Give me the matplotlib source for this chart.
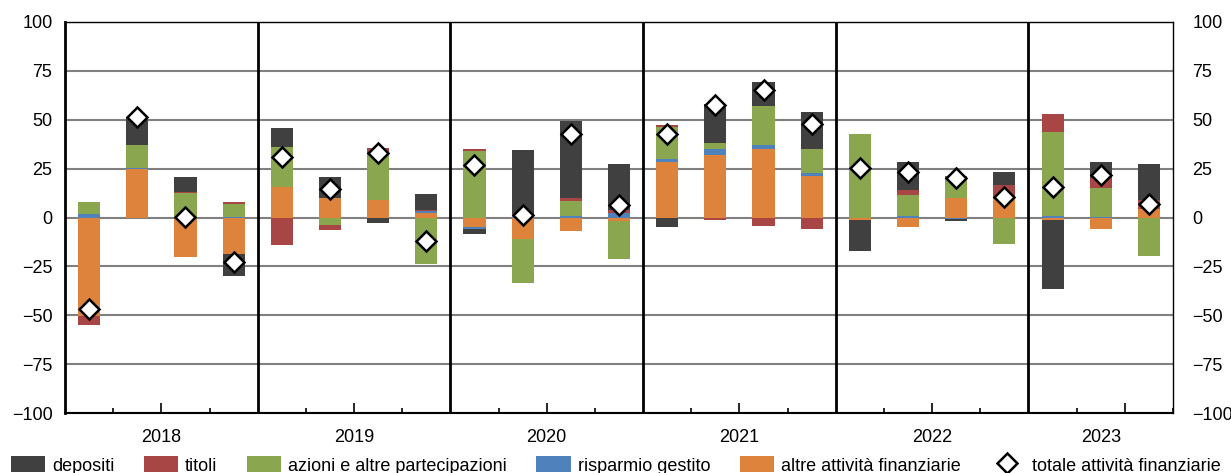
import matplotlib
matplotlib.use('Agg')
from matplotlib import pyplot as plt
from matplotlib import transforms
from matplotlib.patches import Patch
from matplotlib.lines import Line2D
import numpy as np

plt.rcParams['font.family'] = ['Liberation Sans', 'DejaVu Sans']
plt.rcParams['font.size'] = 13

years = ['2018', '2019', '2020', '2021', '2022', '2023']
quarters_per_year = [4, 4, 4, 4, 4, 3]

# quarterly flows, 2018Q1 .. 2023Q3
depositi = [0, 14.1, 7.5, -11.6, 9.6, 10.5, -2.6, 8.2, -2.55, 32.5, 39.3, 23.5,
            -5.1, 19.9, 12.2, 18.9, -15.8, 14.1, -0.85, 6.6, -35.2, 8.2, 18.4]
titoli = [-5.0, -0.5, 0.7, 1.0, -13.8, -2.9, 3.1, 0.85, 1.0, 1.2, 1.7, 1.4,
          1.0, -1.2, -4.1, -6.1, 0, 2.7, 1.4, 6.5, 9.2, 5.1, 4.4]
azioni = [6.0, 11.6, 12.6, 6.5, 20.6, -3.7, 23.3, -24.0, 34.0, -22.6, 7.5, -19.4,
          16.3, 3.1, 19.9, 12.2, 42.7, 10.5, 9.7, -13.3, 42.7, 14.6, -19.9]
risparmio = [2.0, 0.7, 0, 0.3, -0.5, 0, 0, 0.7, -0.85, 0.8, 1.0, 2.5,
             1.4, 3.1, 2.0, 1.4, 0, 1.0, -0.7, 0, 1.0, 0.3, 0.5]
altre = [-50.2, 24.8, -20.4, -18.5, 15.5, 10.2, 9.2, 2.4, -4.8, -11.1, -6.8, -1.7,
         28.6, 32.0, 35.0, 21.4, -1.5, -5.1, 10.2, 10.2, -1.5, -6.1, 4.1]
totale = [-46.8, 51.2, 0.5, -22.6, 31.1, 14.6, 32.8, -11.9, 26.9, 1.4, 42.5, 6.5,
          42.7, 57.3, 65.1, 47.8, 25.2, 23.5, 20.1, 10.5, 15.6, 21.6, 7.1]

labels = ['depositi', 'titoli', 'azioni e altre partecipazioni',
          'risparmio gestito', 'altre attività finanziarie']
colors = ['#404040', '#A84545', '#8AA64E', '#4F81BD', '#DD833C']
series = [depositi, titoli, azioni, risparmio, altre]

fig = plt.figure(figsize=(12.31, 4.73), dpi=100)
ax = fig.add_axes([0.0528, 0.1268, 0.9001, 0.8267])

n = len(totale)
x = np.arange(n)
pos_bottom = np.zeros(n)
neg_bottom = np.zeros(n)
# stack from zero outwards: altre, risparmio, azioni, titoli, depositi
for k in [4, 3, 2, 1, 0]:
    vals = np.array(series[k], dtype=float)
    bottom = np.where(vals >= 0, pos_bottom, neg_bottom)
    ax.bar(x, vals, width=0.46, bottom=bottom, color=colors[k], zorder=3)
    pos_bottom += np.clip(vals, 0, None)
    neg_bottom += np.clip(vals, None, 0)

ax.plot(x, totale, linestyle='none', marker='D', markersize=10,
        markerfacecolor='white', markeredgecolor='black', markeredgewidth=1.8,
        zorder=5)

ax.set_xlim(-0.5, n - 0.5)
ax.set_ylim(-100, 100)
ax.set_yticks(np.arange(-100, 101, 25))
ax.yaxis.grid(True, color='#808080', linewidth=1.5, zorder=0)
ax.set_axisbelow(True)
ax.tick_params(axis='y', length=0, pad=9)

# year separators and quarter ticks
starts = np.cumsum([0] + quarters_per_year[:-1])
for s in starts[1:]:
    ax.axvline(s - 0.5, color='black', linewidth=2, zorder=4)
ax.set_xticks([s + 1.5 for s in starts])
ax.set_xticklabels([])
ax.set_xticks([s + 0.5 for s in starts] + [s + 2.5 for s in starts], minor=True)
ax.tick_params(axis='x', which='major', direction='in', length=7, width=1.2)
ax.tick_params(axis='x', which='minor', direction='in', length=3.5, width=1.2)

trans = transforms.blended_transform_factory(ax.transData, ax.transAxes)
for yr, s, q in zip(years, starts, quarters_per_year):
    ax.text(s + (q - 1) / 2, -0.062, yr, transform=trans, ha='center', va='center')

ax.spines['left'].set_linewidth(2)
ax.spines['bottom'].set_linewidth(1.5)
ax.spines['top'].set_linewidth(1)
ax.spines['right'].set_linewidth(1)

ax2 = ax.twinx()
ax2.set_ylim(-100, 100)
ax2.set_yticks(np.arange(-100, 101, 25))
ax2.tick_params(axis='y', length=0, pad=14)
for sp in ax2.spines.values():
    sp.set_visible(False)

handles = [Patch(facecolor=c) for c in colors]
handles.append(Line2D([], [], linestyle='none', marker='D', markersize=10,
                      markerfacecolor='white', markeredgecolor='black',
                      markeredgewidth=1.8))
fig.legend(handles, labels + ['totale attività finanziarie'], loc='center',
           bbox_to_anchor=(0.5, 0.016), ncol=6, frameon=False,
           handlelength=1.9, handleheight=1.0, handletextpad=0.4,
           columnspacing=1.62, borderaxespad=0)

fig.savefig('out.png', dpi=100)
